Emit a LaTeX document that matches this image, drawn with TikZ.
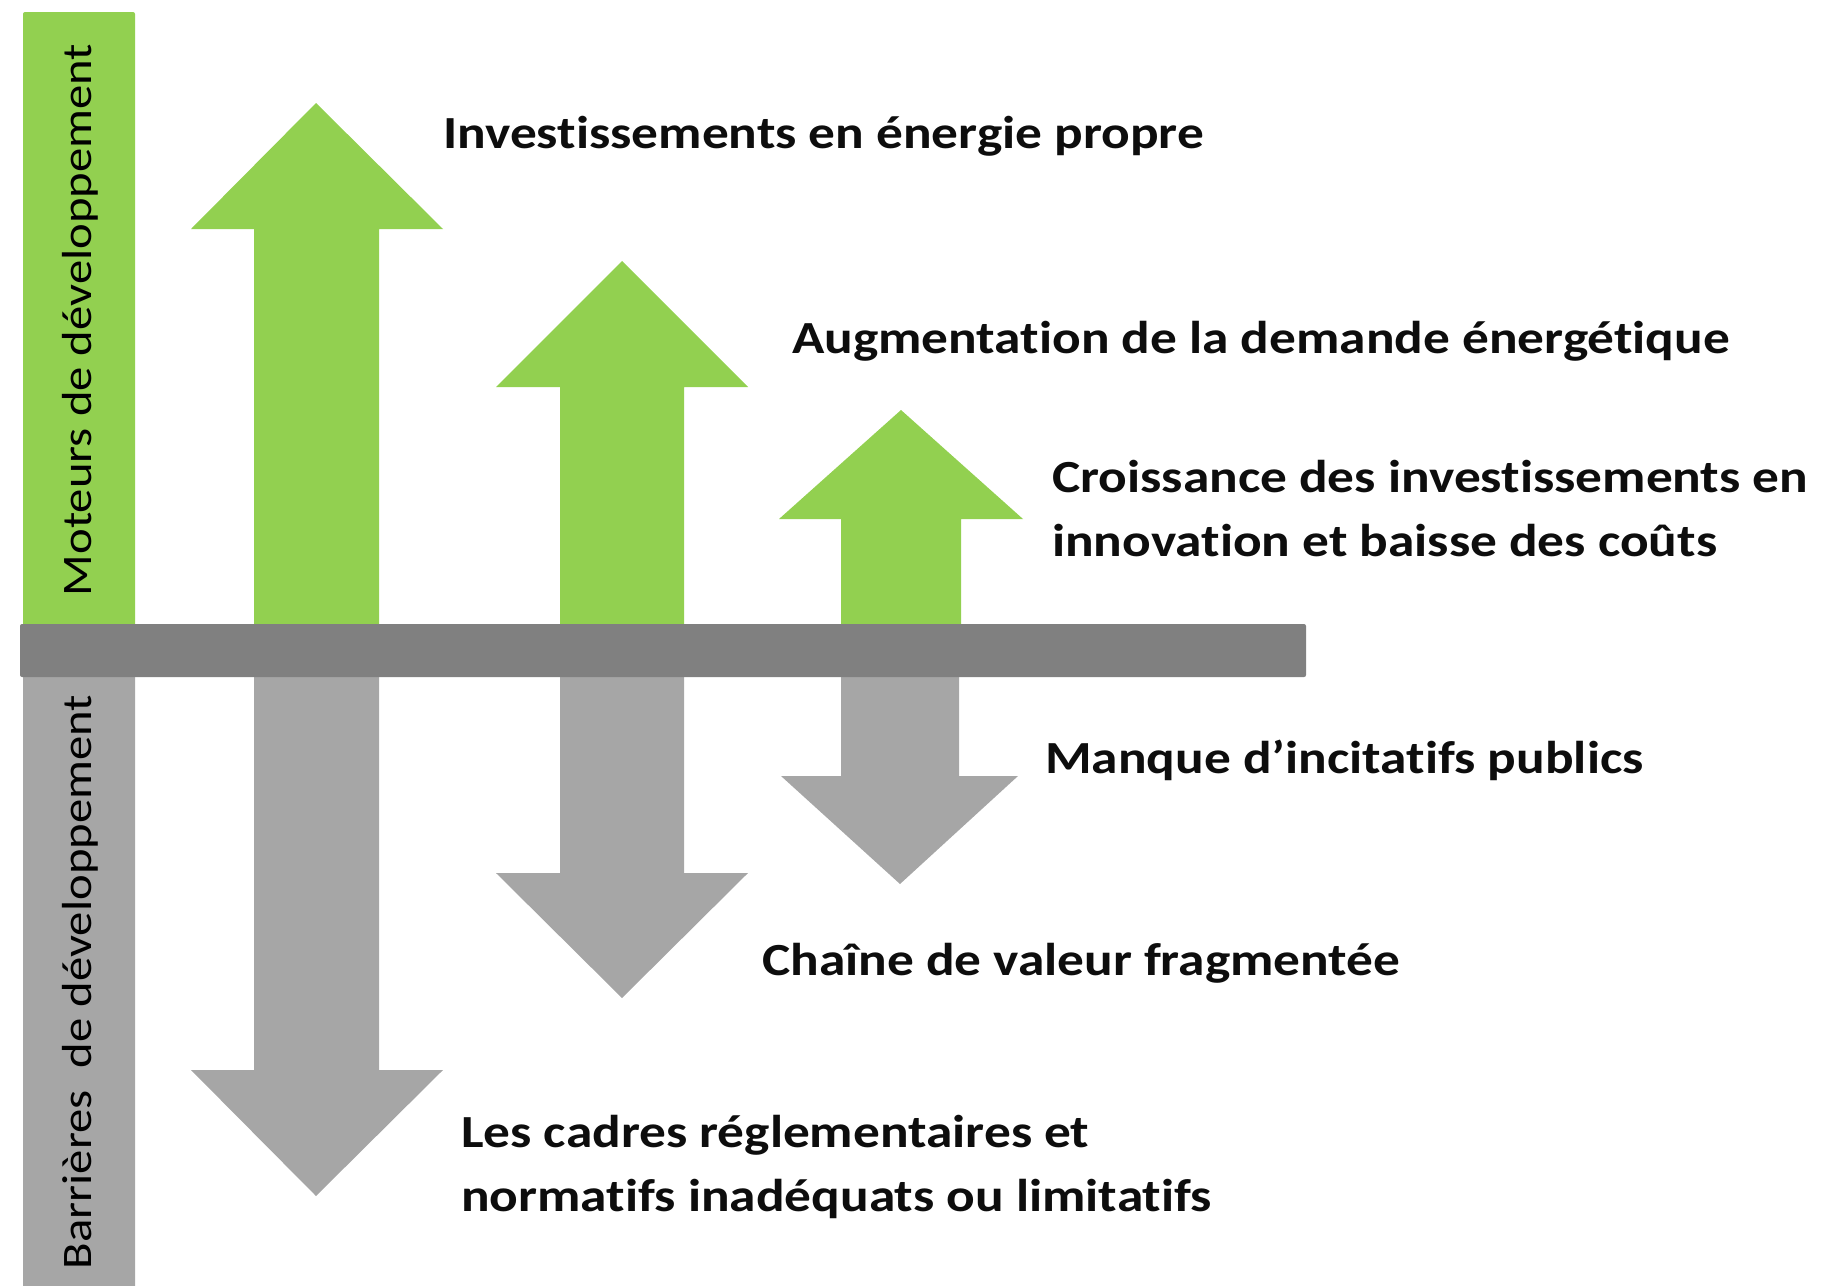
\documentclass[tikz,border=0pt]{standalone}
\usepackage{fontspec}
\setmainfont{Carlito}[Ligatures=NoCommon]
\newfontfamily\lblfont{Carlito}[FakeStretch=1.16,Ligatures=NoCommon]
\definecolor{vgreen}{HTML}{92D050}
\definecolor{bargray}{HTML}{808080}
\definecolor{arrgray}{HTML}{A6A6A6}
\begin{document}
\begin{tikzpicture}[x=1pt,y=-1pt,
  lbl/.style={anchor=west,inner sep=0pt,font=\lblfont\fontsize{46}{64}\selectfont\bfseries,align=left,text=black!95},
  side/.style={rotate=90,inner sep=0pt,font=\lblfont\fontsize{42}{48}\selectfont,text=black}]
\path[use as bounding box] (0,0) rectangle (1822,1285);
% side bars
\fill[vgreen,rounded corners=2pt] (23,12) rectangle (135,626);
\fill[arrgray,rounded corners=2pt] (23,674) rectangle (135,1290);
% up arrows
\fill[vgreen] (254,626) -- (254,229) -- (191,229) -- (316,103) -- (443,229) -- (379,229) -- (379,626) -- cycle;
\fill[vgreen] (560,626) -- (560,387) -- (496,387) -- (622,261) -- (748,387) -- (684,387) -- (684,626) -- cycle;
\fill[vgreen] (841,626) -- (841,519) -- (779,519) -- (901,410) -- (1023,519) -- (961,519) -- (961,626) -- cycle;
% down arrows
\fill[arrgray] (254,674) -- (254,1070) -- (191,1070) -- (316,1196) -- (443,1070) -- (379,1070) -- (379,674) -- cycle;
\fill[arrgray] (560,674) -- (560,873) -- (496,873) -- (622,998) -- (748,873) -- (684,873) -- (684,674) -- cycle;
\fill[arrgray] (841,674) -- (841,776) -- (781,776) -- (900,884) -- (1018,776) -- (959,776) -- (959,674) -- cycle;
% horizontal bar
\fill[bargray,rounded corners=2pt] (20,624) rectangle (1306,677);
% side labels
\node[side] (moteurs) at (80,320) {Moteurs de développement};
\node[side] (barrieres) at (80,982) {Barrières\ \ de développement};
% labels
\node[lbl] (t1) at (443,136) {Investissements en énergie propre};
\node[lbl] (t2) at (792,341) {Augmentation de la demande énergétique};
\node[lbl] (t3) at (1052,509) {Croissance des investissements en\\innovation et baisse des coûts};
\node[lbl] (t4) at (1045,760) {Manque d’incitatifs publics};
\node[lbl] (t5) at (762,963) {Chaîne de valeur fragmentée};
\node[lbl] (t6) at (461,1167) {Les cadres réglementaires et\\normatifs inadéquats ou limitatifs};
\end{tikzpicture}
\end{document}
